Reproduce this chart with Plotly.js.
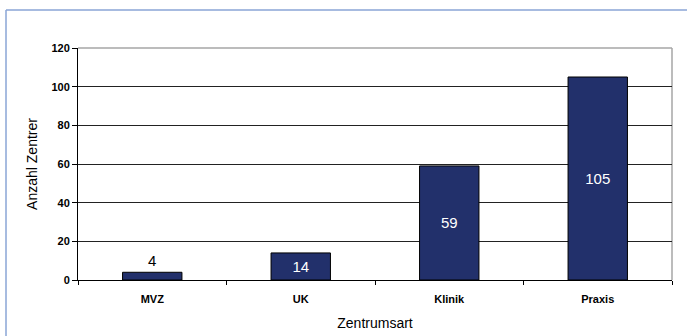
<!DOCTYPE html>
<html>
<head>
<meta charset="utf-8">
<script src="https://cdn.plot.ly/plotly-3.0.1.min.js"></script>
<style>html,body{margin:0;padding:0;background:#fff;}#chart{width:687px;height:336px;}</style>
</head>
<body>
<div id="chart"></div>
<script>
const categories = ["MVZ", "UK", "Klinik", "Praxis"];
const values = [4, 14, 59, 105];
const yTicks = [0, 20, 40, 60, 80, 100, 120];
const xTitle = "Zentrumsart";
const yTitle = "Anzahl Zentrer";

const trace = {
  type: "bar",
  x: categories,
  y: values,
  text: values.map(String),
  textposition: ["outside", "inside", "inside", "inside"],
  insidetextanchor: "middle",
  textangle: 0,
  cliponaxis: false,
  insidetextfont: {family: "Liberation Sans, Arial, sans-serif", size: 15, color: "#ffffff"},
  outsidetextfont: {family: "Liberation Sans, Arial, sans-serif", size: 15, color: "#000000"},
  marker: {color: "#22306b", line: {color: "#000000", width: 1}},
  hoverinfo: "none"
};

const layout = {
  width: 687,
  height: 336,
  margin: {l: 78, r: 15, t: 48, b: 56},
  paper_bgcolor: "#ffffff",
  plot_bgcolor: "#ffffff",
  bargap: 0.6,
  showlegend: false,
  font: {family: "Liberation Sans, Arial, sans-serif", color: "#000"},
  xaxis: {
    type: "category",
    showline: true,
    linecolor: "#000",
    linewidth: 1,
    ticks: "outside",
    tickson: "boundaries",
    ticklen: 4,
    tickcolor: "#000",
    ticklabelstandoff: 9,
    showgrid: false,
    tickfont: {family: "Liberation Sans, Arial, sans-serif", size: 11, color: "#000", weight: "bold"},
    title: {text: xTitle, font: {family: "Liberation Sans, Arial, sans-serif", size: 14, color: "#000"}, standoff: 13},
    automargin: false,
    fixedrange: true
  },
  yaxis: {
    range: [0, 120],
    tickvals: yTicks,
    ticktext: yTicks.map(String),
    showline: true,
    linecolor: "#000",
    linewidth: 1,
    ticks: "outside",
    ticklen: 5,
    tickcolor: "#000",
    showgrid: true,
    gridcolor: "#222",
    gridwidth: 1,
    zeroline: false,
    tickfont: {family: "Liberation Sans, Arial, sans-serif", size: 11, color: "#000", weight: "bold"},
    title: {text: yTitle, font: {family: "Liberation Sans, Arial, sans-serif", size: 14, color: "#000"}, standoff: 10},
    automargin: false,
    fixedrange: true
  },
  shapes: [
    {type: "line", xref: "paper", yref: "paper", x0: 0, x1: 1, y0: 1, y1: 1, line: {color: "#a6a6a6", width: 1.5}, layer: "below"},
    {type: "line", xref: "paper", yref: "paper", x0: 1, x1: 1, y0: 0, y1: 1, line: {color: "#a6a6a6", width: 1.5}, layer: "below"},
    {type: "line", xref: "paper", yref: "paper", x0: -0.1212, x1: 1.03, y0: 1.1638, y1: 1.1638, line: {color: "#8aa5d6", width: 1.5}},
    {type: "line", xref: "paper", yref: "paper", x0: -0.1212, x1: -0.1212, y0: -0.25, y1: 1.1638, line: {color: "#8aa5d6", width: 1.5}}
  ]
};

Plotly.newPlot("chart", [trace], layout, {displayModeBar: false, staticPlot: true});
</script>
</body>
</html>
